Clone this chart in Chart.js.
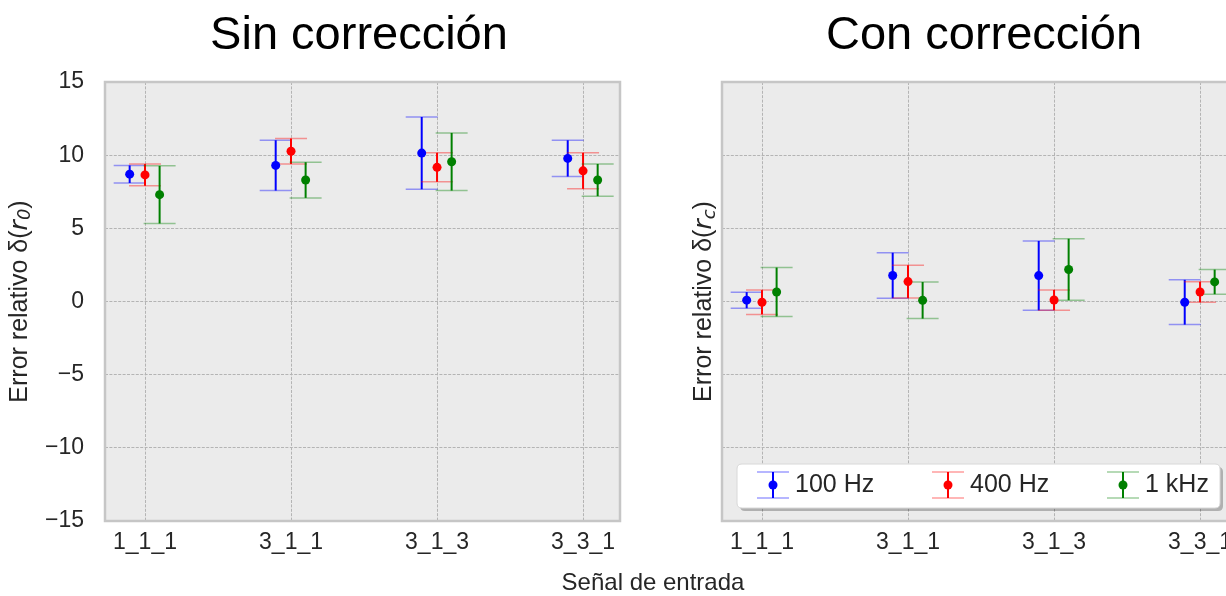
<!DOCTYPE html>
<html><head><meta charset="utf-8">
<script src="https://cdn.jsdelivr.net/npm/chart.js@4.4.1/dist/chart.umd.min.js"></script>
<style>
html,body{margin:0;padding:0;background:#fff;overflow:hidden;width:1226px;height:596px;}
#wrap{position:relative;width:1226px;height:596px;overflow:hidden;}
canvas{position:absolute;top:0;}
#c1{left:0;} #c2{left:640px;}
#xl{position:absolute;left:453px;width:400px;text-align:center;top:570px;font-family:"Liberation Sans",Arial,sans-serif;font-size:24px;line-height:24px;color:#262626;}
</style></head>
<body><div id="wrap"><canvas id="c1" width="640" height="596"></canvas><canvas id="c2" width="640" height="596"></canvas><div id="xl">Señal de entrada</div></div>
<script>
// ---------- data ----------
const categories = ['1_1_1', '3_1_1', '3_1_3', '3_3_1'];
const seriesNames = ['100 Hz', '400 Hz', '1 kHz'];
const yTickValues = [-15, -10, -5, 0, 5, 10, 15];

// Sin corrección  (δ(r0))
const sin100    = [8.70, 9.30, 10.14, 9.78];
const sin100Err = [0.60, 1.72, 2.47, 1.24];
const sin400    = [8.65, 10.27, 9.17, 8.93];
const sin400Err = [0.74, 0.87, 0.99, 1.23];
const sin1k     = [7.30, 8.30, 9.55, 8.30];
const sin1kErr  = [1.97, 1.22, 1.97, 1.10];

// Con corrección  (δ(rc))
const con100    = [0.09, 1.78, 1.77, -0.05];
const con100Err = [0.55, 1.55, 2.37, 1.53];
const con400    = [-0.05, 1.36, 0.10, 0.65];
const con400Err = [0.83, 1.12, 0.69, 0.70];
const con1k     = [0.65, 0.08, 2.19, 1.34];
const con1kErr  = [1.67, 1.25, 2.10, 0.84];

// ---------- styling ----------
const colors = ['#0000ff', '#ff0000', '#008000'];
const capColors = ['rgba(0,0,255,0.38)', 'rgba(255,0,0,0.38)', 'rgba(0,128,0,0.38)'];
const offsets = [-0.105, 0, 0.1];
const FONT = '"Liberation Sans", Arial, sans-serif';
const TEXT = '#262626';

function roundRect(ctx, x, y, w, h, r) {
  ctx.beginPath();
  ctx.moveTo(x + r, y);
  ctx.lineTo(x + w - r, y); ctx.quadraticCurveTo(x + w, y, x + w, y + r);
  ctx.lineTo(x + w, y + h - r); ctx.quadraticCurveTo(x + w, y + h, x + w - r, y + h);
  ctx.lineTo(x + r, y + h); ctx.quadraticCurveTo(x, y + h, x, y + h - r);
  ctx.lineTo(x, y + r); ctx.quadraticCurveTo(x, y, x + r, y);
  ctx.closePath();
}

function drawErrGlyph(ctx, x, yTop, yBot, yMid, i, capHalf) {
  ctx.save();
  ctx.strokeStyle = colors[i]; ctx.lineWidth = 2;
  ctx.beginPath(); ctx.moveTo(x, yTop); ctx.lineTo(x, yBot); ctx.stroke();
  ctx.strokeStyle = capColors[i]; ctx.lineWidth = 1.5;
  ctx.beginPath();
  ctx.moveTo(x - capHalf, yTop); ctx.lineTo(x + capHalf, yTop);
  ctx.moveTo(x - capHalf, yBot); ctx.lineTo(x + capHalf, yBot);
  ctx.stroke();
  if (yMid !== null) {
    ctx.fillStyle = colors[i];
    ctx.beginPath(); ctx.arc(x, yMid, 4.5, 0, Math.PI * 2); ctx.fill();
  }
  ctx.restore();
}

const panelDecor = {
  id: 'panelDecor',
  beforeDraw(chart) {
    const { ctx, chartArea: a } = chart;
    ctx.save();
    ctx.fillStyle = '#ebebeb';
    ctx.fillRect(a.left, a.top, a.right - a.left, a.bottom - a.top);
    ctx.restore();
  },
  beforeDatasetsDraw(chart) {
    const { ctx, chartArea: a } = chart;
    ctx.save();
    ctx.strokeStyle = '#c6c6c6'; ctx.lineWidth = 2.5;
    ctx.strokeRect(a.left, a.top, a.right - a.left, a.bottom - a.top);
    ctx.restore();
    const ys = chart.scales.y;
    chart.data.datasets.forEach((ds, i) => {
      const meta = chart.getDatasetMeta(i);
      meta.data.forEach((el, j) => {
        const v = ds.data[j].y, e = ds.errors[j];
        drawErrGlyph(ctx, el.x, ys.getPixelForValue(v + e), ys.getPixelForValue(v - e), null, i, 16);
      });
    });
  },
  afterDraw(chart, args, o) {
    const { ctx, chartArea: a } = chart;
    // panel title
    ctx.save();
    ctx.fillStyle = '#000';
    ctx.font = '47px ' + FONT;
    ctx.textAlign = 'center'; ctx.textBaseline = 'alphabetic';
    ctx.fillText(o.title, o.titleX, 49);
    ctx.restore();
    // y-axis label with math part
    ctx.save();
    const fs = 25;
    ctx.translate(o.ylabelX, (a.top + a.bottom) / 2);
    ctx.rotate(-Math.PI / 2);
    ctx.fillStyle = TEXT; ctx.textBaseline = 'middle'; ctx.textAlign = 'left';
    const parts = [
      { t: 'Error relativo δ(', f: fs + 'px ' + FONT, dy: 0 },
      { t: 'r', f: 'italic ' + fs + 'px "DejaVu Sans"', dy: 0 },
      { t: o.sub, f: 'italic ' + Math.round(fs * 0.7) + 'px "DejaVu Sans"', dy: fs * 0.22 },
      { t: ')', f: fs + 'px ' + FONT, dy: 0 }
    ];
    let total = 0;
    parts.forEach(p => { ctx.font = p.f; p.w = ctx.measureText(p.t).width; total += p.w; });
    let x = -total / 2;
    parts.forEach(p => { ctx.font = p.f; ctx.fillText(p.t, x, p.dy); x += p.w; });
    ctx.restore();
    // legend
    if (o.legend) {
      const L = o.legend;
      ctx.save();
      ctx.fillStyle = 'rgba(0,0,0,0.25)';
      roundRect(ctx, L.x + 3, L.y + 3, L.w, L.h, 5); ctx.fill();
      ctx.fillStyle = '#ffffff';
      roundRect(ctx, L.x, L.y, L.w, L.h, 5); ctx.fill();
      ctx.strokeStyle = '#d8d8d8'; ctx.lineWidth = 1; ctx.stroke();
      const cy = L.y + L.h / 2 - 1;
      chart.data.datasets.forEach((ds, i) => {
        const hx = L.x0 + i * L.step;
        drawErrGlyph(ctx, hx, cy - 13, cy + 13, cy, i, 16);
        ctx.fillStyle = TEXT;
        ctx.font = '25px ' + FONT;
        ctx.textAlign = 'left'; ctx.textBaseline = 'middle';
        ctx.fillText(ds.label, hx + 22, cy);
      });
      ctx.restore();
    }
  }
};

function makePanel(id, vals, errs, deco, yAxisWidth, padRight, showYTicks) {
  const datasets = vals.map((arr, i) => ({
    label: seriesNames[i],
    data: arr.map((v, j) => ({ x: j + offsets[i], y: v })),
    errors: errs[i],
    backgroundColor: colors[i],
    borderColor: colors[i],
    pointRadius: 4.5,
    pointBorderWidth: 0,
    showLine: false
  }));
  return new Chart(document.getElementById(id), {
    type: 'scatter',
    data: { datasets },
    plugins: [panelDecor],
    options: {
      responsive: false,
      devicePixelRatio: 1,
      animation: false,
      events: [],
      layout: { padding: { top: 82, right: padRight, bottom: 0, left: 0 } },
      plugins: { legend: { display: false }, tooltip: { enabled: false }, title: { display: false }, panelDecor: deco },
      scales: {
        x: {
          type: 'linear', min: -0.274, max: 3.253,
          afterBuildTicks: s => { s.ticks = categories.map((c, i) => ({ value: i })); },
          afterFit: s => { s.height = 75; },
          grid: { color: '#b4b4b4', lineWidth: 1, drawTicks: false },
          border: { display: false, dash: [3, 1.4] },
          ticks: { padding: 8, color: TEXT, font: { family: FONT, size: 23 },
                   callback: v => categories[Math.round(v)], maxRotation: 0, autoSkip: false }
        },
        y: {
          type: 'linear', min: yTickValues[0], max: yTickValues[yTickValues.length - 1],
          afterBuildTicks: s => { s.ticks = yTickValues.map(v => ({ value: v })); },
          afterFit: s => { s.width = yAxisWidth; },
          grid: { color: '#b4b4b4', lineWidth: 1, drawTicks: false },
          border: { display: false, dash: [3, 1.4] },
          ticks: { display: showYTicks, padding: 21, color: TEXT, font: { family: FONT, size: 23 },
                   callback: v => (v < 0 ? '\u2212' + Math.abs(v) : String(v)) }
        }
      }
    }
  });
}

makePanel('c1', [sin100, sin400, sin1k], [sin100Err, sin400Err, sin1kErr],
  { title: 'Sin corrección', titleX: 359, ylabelX: 20, sub: '0' }, 105, 20, true);
makePanel('c2', [con100, con400, con1k], [con100Err, con400Err, con1kErr],
  { title: 'Con corrección', titleX: 344, ylabelX: 64.5, sub: 'c',
    legend: { x: 97, y: 464, w: 483, h: 44, x0: 133, step: 175 } }, 82, 43, false);
</script>
</body></html>
